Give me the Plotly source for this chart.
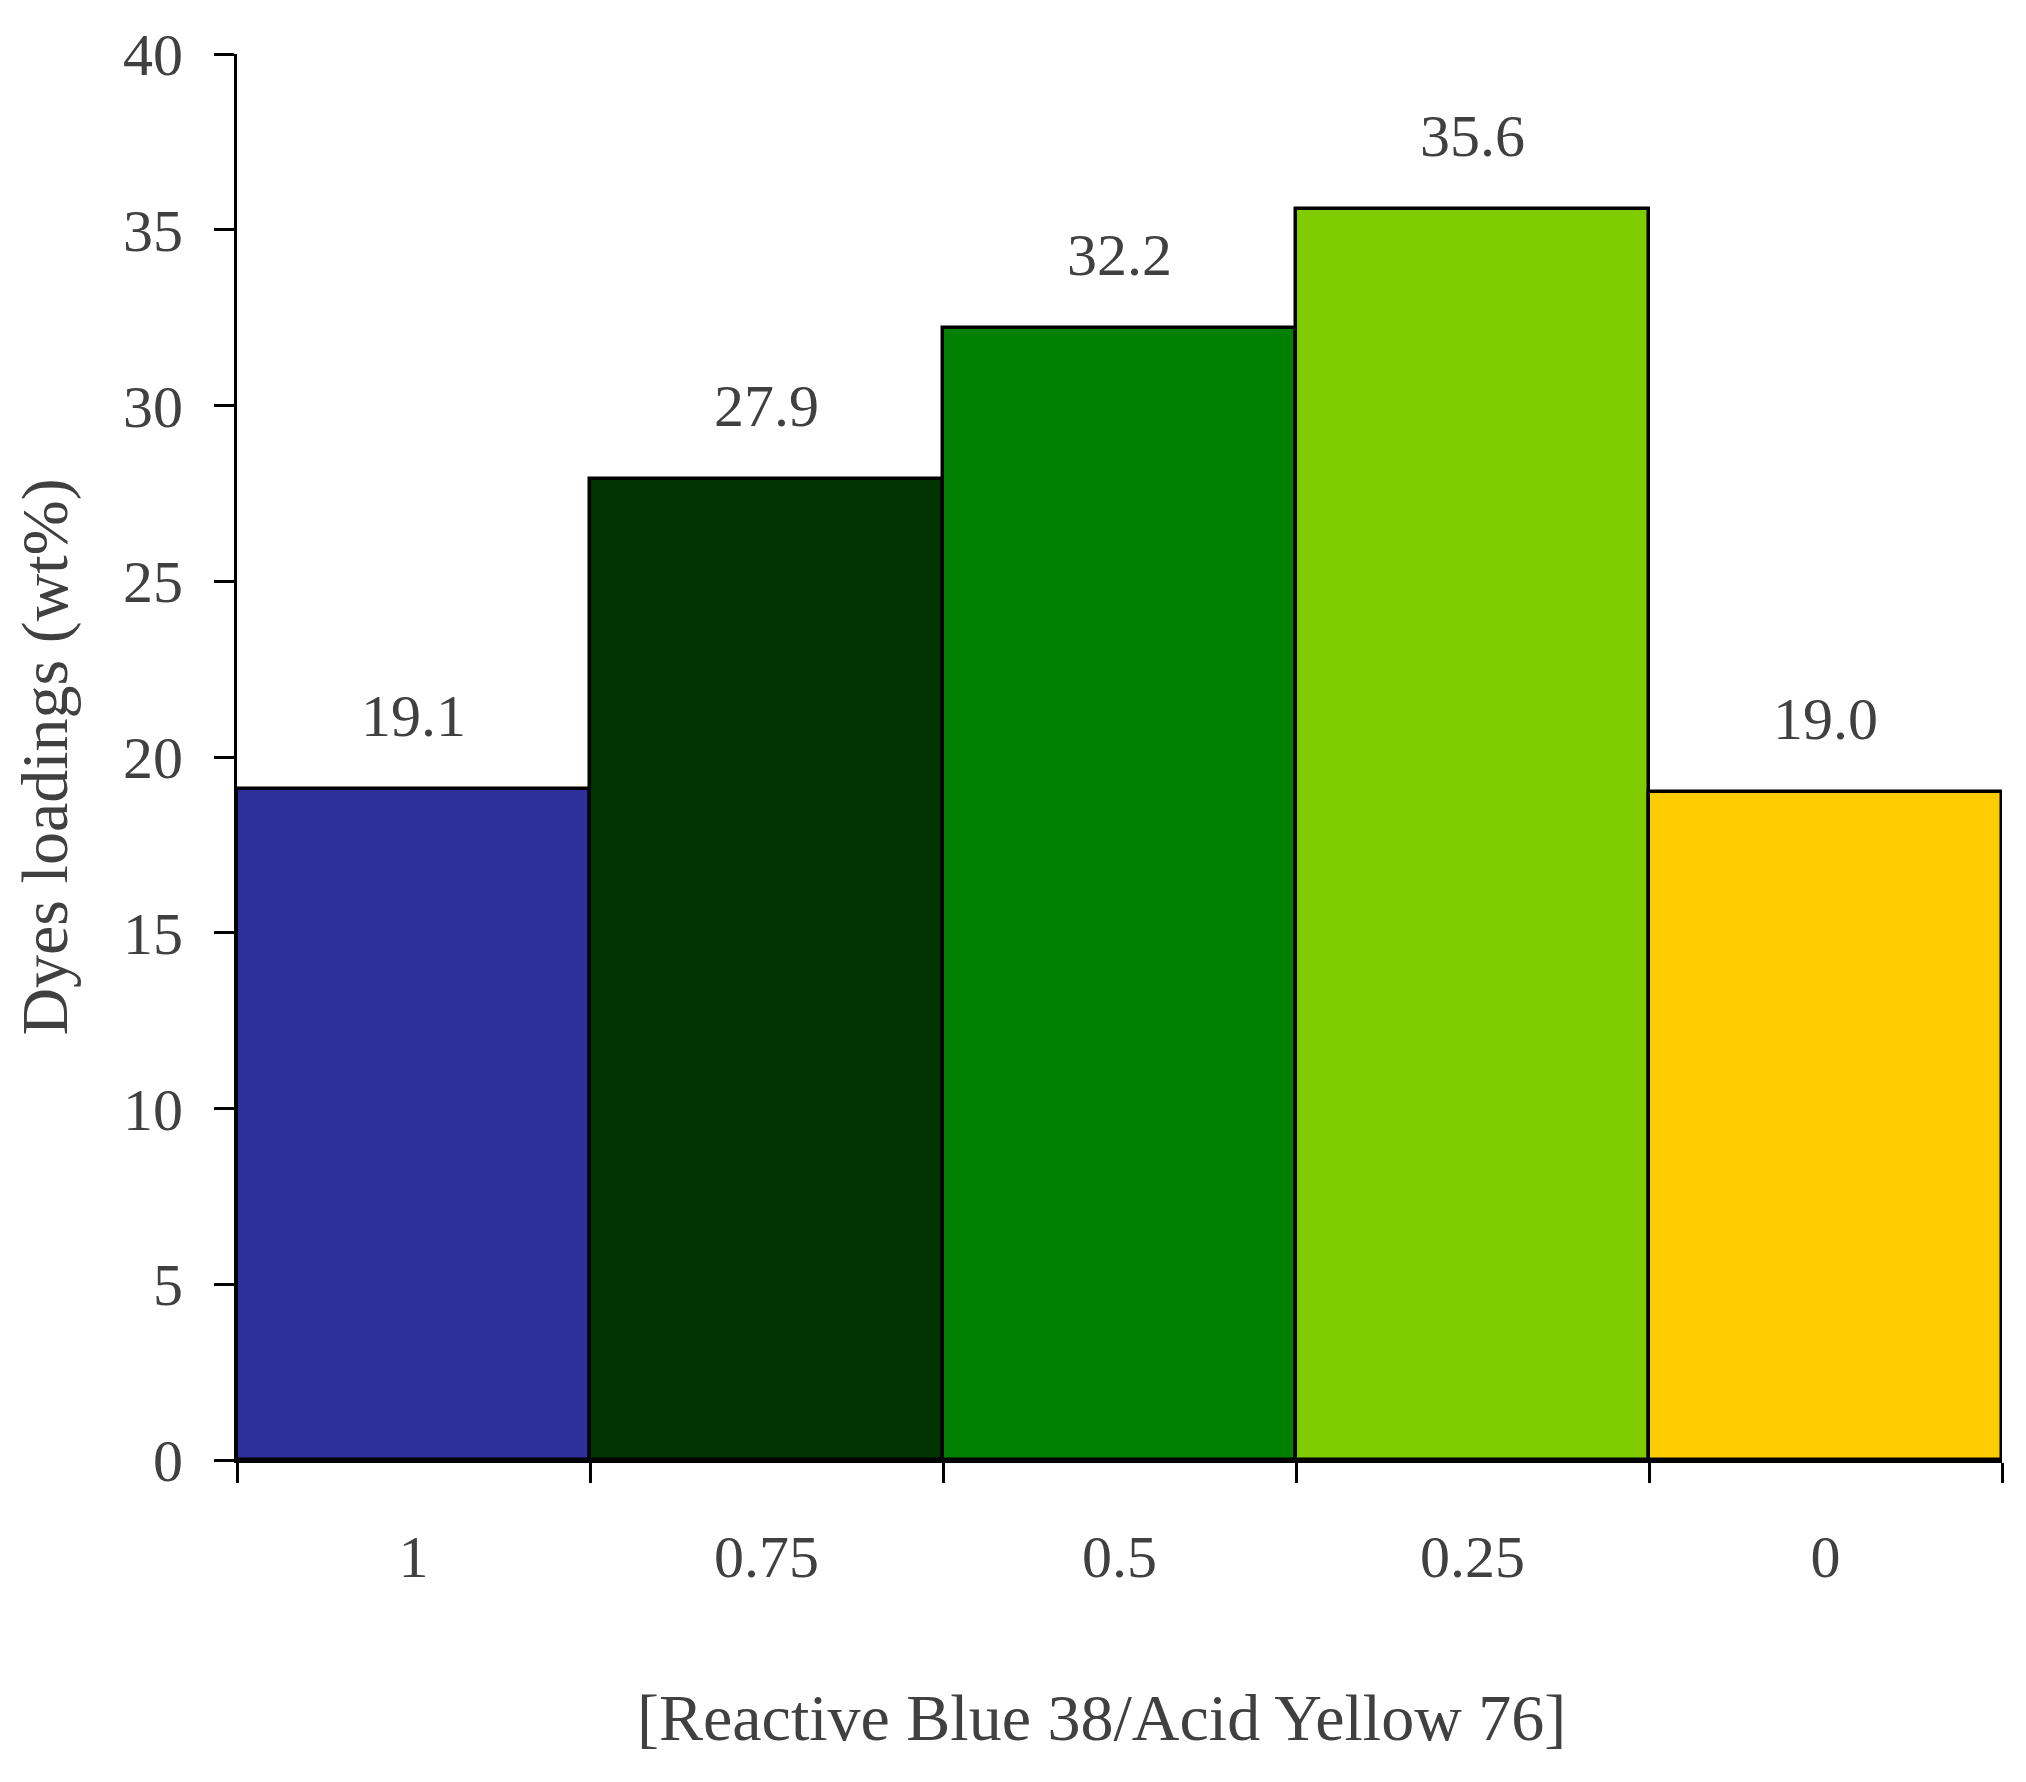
import plotly.graph_objects as go

# ratio of Reactive Blue 38 / Acid Yellow 76 and the measured dye loading
ratios = ["1", "0.75", "0.5", "0.25", "0"]
loadings = [19.1, 27.9, 32.2, 35.6, 19.0]
bar_colors = ["#2e2f9b", "#003300", "#007f00", "#7fcc00", "#ffcc00"]

y_ticks = [0, 5, 10, 15, 20, 25, 30, 35, 40]

FONT = "Liberation Serif"
TEXT_COLOR = "#404040"

fig = go.Figure()
fig.add_trace(go.Bar(
    x=ratios,
    y=loadings,
    marker=dict(color=bar_colors, line=dict(color="black", width=3.5)),
    showlegend=False,
))

# value labels above each bar (category index used as x position)
for i, v in enumerate(loadings):
    fig.add_annotation(
        x=i, y=v, text=f"{v:.1f}",
        showarrow=False, yanchor="bottom", yshift=38,
        font=dict(family=FONT, size=60, color=TEXT_COLOR),
    )

# x axis title, set a little left of centre as in the original
fig.add_annotation(
    text="[Reactive Blue 38/Acid Yellow 76]",
    xref="paper", yref="paper", x=0.49, y=-0.183,
    xanchor="center", yanchor="middle", showarrow=False,
    font=dict(family=FONT, size=66, color=TEXT_COLOR),
)

fig.update_layout(
    width=2026, height=1782,
    margin=dict(l=229, r=32, t=46, b=330),
    plot_bgcolor="white", paper_bgcolor="white",
    bargap=0,
    font=dict(family=FONT, size=60, color=TEXT_COLOR),
)
fig.update_xaxes(
    type="category",
    range=[-0.5, 4.5],
    showline=True, linecolor="black", linewidth=3,
    ticks="outside", tickson="boundaries", ticklen=20, tickwidth=3,
    tickcolor="black",
    ticklabelstandoff=42,
    showgrid=False,
)
fig.update_yaxes(
    range=[0, 40],
    tickvals=y_ticks,
    showline=True, linecolor="black", linewidth=3,
    ticks="outside", ticklen=20, tickwidth=3, tickcolor="black",
    ticklabelstandoff=19,
    showgrid=False, zeroline=False,
    title=dict(text="Dyes loadings (wt%)", standoff=38,
               font=dict(family=FONT, size=66, color=TEXT_COLOR)),
)

fig.write_html("out.html")
